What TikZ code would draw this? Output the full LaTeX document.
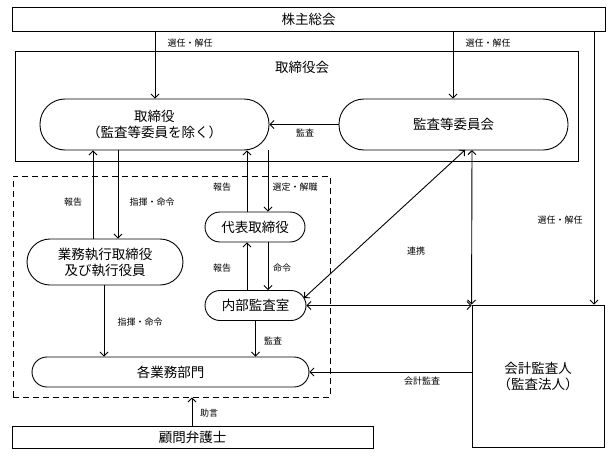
\documentclass[tikz,border=0pt]{standalone}
\usepackage{fontspec}
\setmainfont{Noto Sans CJK JP}
\usetikzlibrary{arrows.meta}
\begin{document}
\begin{tikzpicture}[x=1pt,y=-1pt,
  line width=0.9pt,
  box/.style={draw,rectangle,inner sep=0pt,font=\fontsize{13.5}{16}\selectfont,align=center},
  pill/.style={box,rounded corners=#1},
  lbl/.style={font=\fontsize{9}{10}\selectfont,inner sep=0pt},
  arr/.style={-{Straight Barb[length=4pt,width=8pt]}},
  darr/.style={{Straight Barb[length=4pt,width=8pt]}-{Straight Barb[length=4pt,width=8pt]}}]
\useasboundingbox (0,0) rectangle (611,458);
% boxes
\node[box,minimum width=593pt,minimum height=24pt] (sh) at (308.5,19) {株主総会};
\node[box,minimum width=563pt,minimum height=110pt] (board) at (296.5,106) {};
\node[font=\fontsize{13.5}{16}\selectfont,inner sep=0pt] (boardlbl) at (302,67) {取締役会};
\node[pill=25pt,minimum width=229pt,minimum height=51pt] (dir) at (154.5,124.5) {取締役\\（監査等委員を除く）};
\node[pill=25pt,minimum width=229pt,minimum height=51pt] (aud) at (453.5,124.5) {監査等委員会};
\node[draw,dashed,dash pattern=on 6pt off 4pt,rectangle,minimum width=317pt,minimum height=221pt] (grp) at (171.5,286.5) {};
\node[pill=23pt,minimum width=156pt,minimum height=46pt] (exe) at (105,262) {業務執行取締役\\及び執行役員};
\node[pill=15pt,minimum width=100pt,minimum height=30pt] (rep) at (255,227) {代表取締役};
\node[pill=15pt,minimum width=101pt,minimum height=30pt] (ia) at (255.5,305.5) {内部監査室};
\node[pill=15pt,minimum width=277pt,minimum height=30pt] (dept) at (170.5,372) {各業務部門};
\node[box,minimum width=361pt,minimum height=22pt] (law) at (192.5,437) {顧問弁護士};
\node[box,minimum width=132pt,minimum height=142pt] (ca) at (538,376) {会計監査人\\（監査法人）};
% coordinates
\coordinate (shA) at (155,31);
\coordinate (shB) at (453,31);
\coordinate (shC) at (594,31);
\coordinate (audS) at (465,150);
\coordinate (audV) at (472,150);
\coordinate (iaNE) at (304,298);
% arrows
\draw[arr] (shA) -- (shA |- dir.north);
\draw[arr] (shB) -- (shB |- aud.north);
\draw[arr] (shC) -- (shC |- ca.north);
\draw[arr] (aud.west) -- (dir.east);
\draw[arr] (exe.north -| 93,0) -- (dir.south -| 93,0);
\draw[arr] (dir.south -| 118,0) -- (exe.north -| 118,0);
\draw[arr] (rep.north -| 247,0) -- (dir.south -| 247,0);
\draw[arr] (dir.south -| 268,0) -- (rep.north -| 268,0);
\draw[arr] (ia.north -| 247,0) -- (rep.south -| 247,0);
\draw[arr] (rep.south -| 268,0) -- (ia.north -| 268,0);
\draw[arr] (exe.south -| 104,0) -- (dept.north -| 104,0);
\draw[arr] (ia.south) -- (dept.north -| ia.south);
\draw[arr] (law.north -| 192,0) -- (grp.south -| 192,0);
\draw[darr] (ca.north west) -- (audV);
\draw[darr] (iaNE) -- (audS);
\draw[darr] (ia.east) -- (ia.east -| ca.west);
\draw[arr] (ca.west |- dept.east) -- (dept.east);
% labels
\node[lbl] (l1) at (190,43) {選任・解任};
\node[lbl] (l2) at (488,43) {選任・解任};
\node[lbl] (l3) at (560,220) {選任・解任};
\node[lbl] (l4) at (305,133) {監査};
\node[lbl] (l5) at (73,202) {報告};
\node[lbl] (l6) at (152,202) {指揮・命令};
\node[lbl] (l7) at (222,187) {報告};
\node[lbl] (l8) at (295,187) {選定・解職};
\node[lbl] (l9) at (222,268) {報告};
\node[lbl] (l10) at (282,268) {命令};
\node[lbl] (l11) at (140,322) {指揮・命令};
\node[lbl] (l12) at (273,341) {監査};
\node[lbl] (l13) at (209,413) {助言};
\node[lbl] (l14) at (416,251) {連携};
\node[lbl] (l15) at (422,381) {会計監査};
\end{tikzpicture}
\end{document}
